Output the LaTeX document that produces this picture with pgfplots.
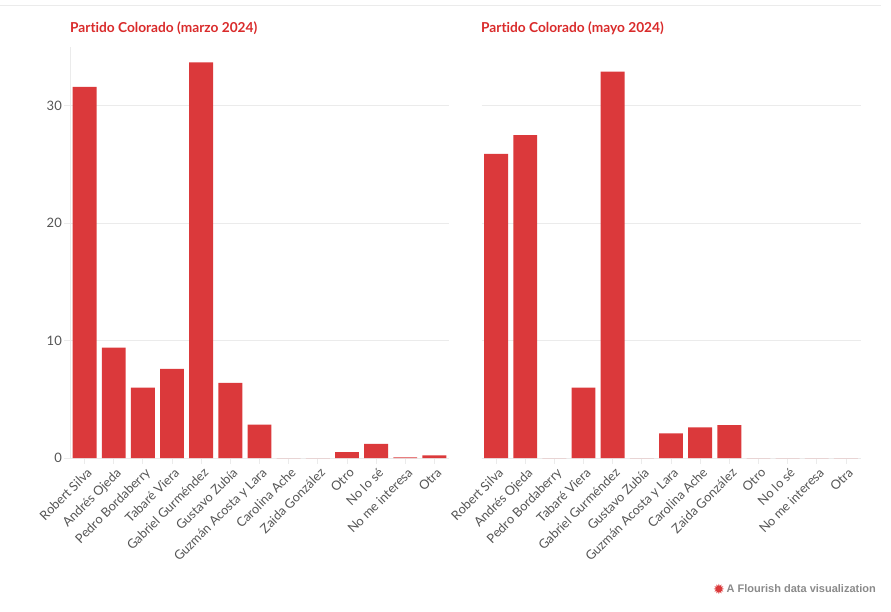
\documentclass[border=0pt]{standalone}
\usepackage{pgfplots}
\pgfplotsset{compat=1.18}
\usepackage{fontspec}
\setmainfont{Lato}[Ligatures=NoCommon]
\newfontfamily\footfont{Liberation Sans}
\newfontfamily\symfont{DejaVu Sans}
\definecolor{barred}{HTML}{DB393B}
\definecolor{titlered}{HTML}{D92B2B}
\definecolor{gridc}{HTML}{EBEBEB}
\definecolor{tickc}{HTML}{555555}
\definecolor{footc}{HTML}{8A8A8A}
\pgfplotsset{panel/.style={
  scale only axis, width=379pt, height=411pt,
  ymin=0, ymax=35, xmin=-0.5, xmax=12.5,
  ybar, bar width=0.82,
  xtick={0,...,12},
  xticklabels={Robert Silva,Andrés Ojeda,Pedro Bordaberry,Tabaré Viera,Gabriel Gurméndez,Gustavo Zubía,Guzmán Acosta y Lara,Carolina Ache,Zaida González,Otro,No lo sé,No me interesa,Otra},
  ytick={0,10,20,30},
  ymajorgrids, grid style={gridc, line width=0.8pt},
  axis x line*=bottom, axis y line*=left,
  axis line style={gridc, line width=0.8pt},
  tick style={gridc, line width=0.8pt},
  tick align=outside, major tick length=6pt,
  xtick pos=bottom, ytick pos=left,
  xticklabel style={rotate=45, anchor=north east, inner sep=1pt, yshift=-2pt, font=\fontsize{12.8}{14}\selectfont, text=tickc},
  yticklabel style={font=\fontsize{13}{15}\selectfont, text=tickc, inner sep=2pt},
  /pgf/number format/assume math mode=true,
  clip=false,
}}
\begin{document}
\begin{tikzpicture}[x=1pt,y=1pt]
\useasboundingbox (0,0) rectangle (891,611);
\draw[gridc, line width=1pt] (0,605) -- (881,605);
\node[anchor=west, inner sep=0pt, text=titlered, font=\fontsize{13.7}{15}\selectfont\bfseries] at (70,583) {Partido Colorado (marzo 2024)};
\node[anchor=west, inner sep=0pt, text=titlered, font=\fontsize{13.7}{15}\selectfont\bfseries] at (481,583) {Partido Colorado (mayo 2024)};
\begin{axis}[panel, at={(70pt,153pt)}, anchor=south west]
\addplot[fill=barred, draw=none] coordinates {
(0,31.6) (1,9.4) (2,6.0) (3,7.6) (4,33.7) (5,6.4) (6,2.85) (7,0) (8,0) (9,0.5) (10,1.2) (11,0.05) (12,0.23)};
\end{axis}
\begin{axis}[panel, at={(481.5pt,153pt)}, anchor=south west, yticklabels={}, y axis line style={draw=none}, ytick style={draw=none}]
\addplot[fill=barred, draw=none] coordinates {
(0,25.9) (1,27.5) (2,0) (3,6.0) (4,32.9) (5,0) (6,2.1) (7,2.6) (8,2.8) (9,0) (10,0) (11,0) (12,0)};
\end{axis}
\node[anchor=east, inner sep=0pt, text=footc, font=\footfont\fontsize{11}{13}\selectfont\bfseries] (ft) at (876,22) {A Flourish data visualization};
\node[anchor=east, inner sep=0pt, text=barred, font=\symfont\fontsize{14}{15}\selectfont] at ([xshift=-1.5pt]ft.west) {✹};
\end{tikzpicture}
\end{document}
